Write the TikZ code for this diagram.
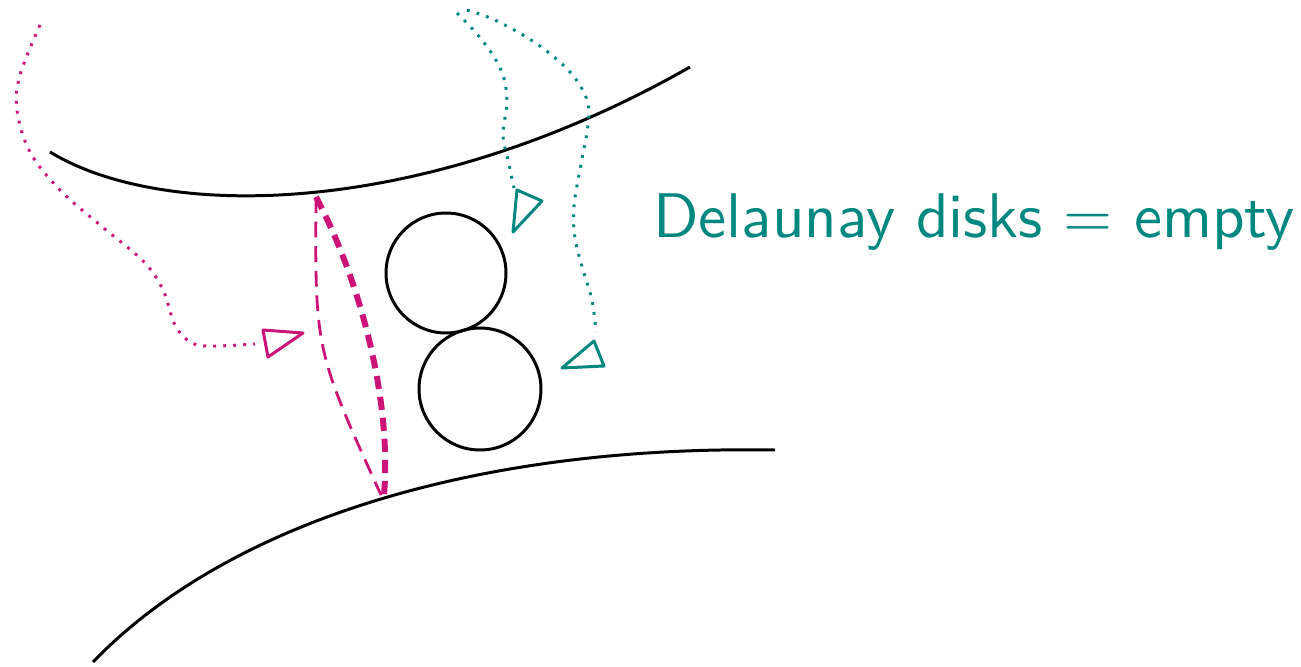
\documentclass[tikz,border=0pt]{standalone}
\usepackage{fontspec}
\definecolor{dmag}{RGB}{204,20,120}
\definecolor{dteal}{RGB}{0,136,128}
\begin{document}
\begin{tikzpicture}[x=0.02cm,y=-0.02cm,
  curve/.style={black,line width=1.7pt},
  disk/.style={black,line width=1.7pt},
  thindash/.style={dmag,line width=1.6pt,dash pattern=on 9pt off 5pt},
  thickdash/.style={dmag,line width=3.4pt,dash pattern=on 7.5pt off 4.5pt},
  dotline/.style={line width=1.7pt,line cap=butt,dash pattern=on 1.6pt off 4.1pt},
  headtri/.style={line width=1.7pt,line join=round}]
\useasboundingbox (0,0) rectangle (1301,666);
% boundary curves
\draw[curve] (50,152) .. controls (165,222) and (425,218) .. (690,67);
\draw[curve] (93,662) .. controls (230,520) and (480,445) .. (775,450);
% disks
\node[disk,draw,circle,minimum size=2.4cm,inner sep=0] (d1) at (446,273) {};
\node[disk,draw,circle,minimum size=2.44cm,inner sep=0] (d2) at (480,389) {};
% medial edges
\coordinate (p) at (316,197);
\coordinate (q) at (381,495);
\coordinate (q2) at (384,495);
\draw[thindash] (p) .. controls (315,350) .. (q);
\draw[thickdash] (p) .. controls (360,280) and (392,400) .. (q2);
% magenta dotted pointer
\draw[dotline,dmag] plot[smooth,tension=0.6] coordinates {(40,25) (20,75) (17,110) (30,152) (60,190) (100,225) (143,261) (163,290) (175,325) (192,343) (214,346) (255,344)};
\draw[headtri,dmag] (263,330) -- (303,333) -- (268,357) -- cycle;
% teal dotted pointers
\draw[dotline,dteal] plot[smooth,tension=0.6] coordinates {(457,13) (482,40) (501,70) (507,100) (503,135) (509,164) (514,188)};
\draw[headtri,dteal] (517,190) -- (542,201) -- (513,232) -- cycle;
\draw[dotline,dteal] plot[smooth,tension=0.6] coordinates {(467,10) (497,21) (537,44) (570,72) (587,100) (588,125) (581,164) (574,206) (575,238) (583,270) (592,300) (596,332)};
\draw[headtri,dteal] (594,341) -- (604,366) -- (562,368) -- cycle;
% label
\node[anchor=base west,inner sep=0,text=dteal,font=\sffamily,scale=3.59] (lbl) at (652,237) {Delaunay disks $=$ empty};
\end{tikzpicture}
\end{document}
